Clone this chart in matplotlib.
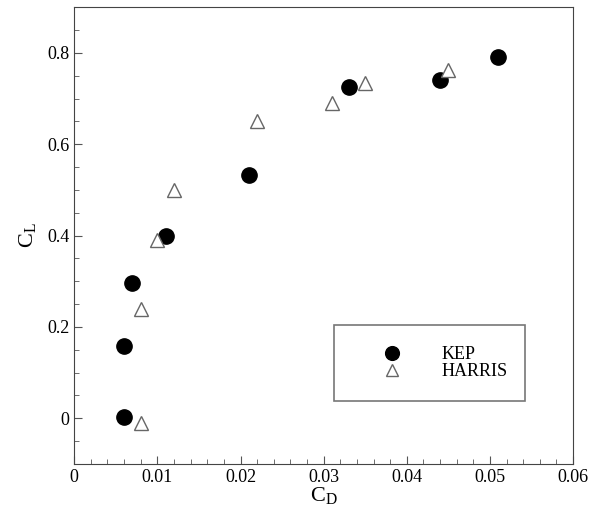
import matplotlib.pyplot as plt
from matplotlib.patches import Rectangle
from matplotlib.ticker import MultipleLocator

plt.rcParams['font.family'] = ['Liberation Serif', 'DejaVu Serif']

# KEP data
kep_cd = [0.006, 0.006, 0.007, 0.011, 0.021, 0.033, 0.044, 0.051]
kep_cl = [0.003, 0.157, 0.295, 0.400, 0.533, 0.726, 0.740, 0.790]

# HARRIS data
harris_cd = [0.008, 0.008, 0.010, 0.012, 0.022, 0.031, 0.035, 0.045]
harris_cl = [-0.010, 0.240, 0.390, 0.500, 0.650, 0.690, 0.733, 0.762]

xticks = [0, 0.01, 0.02, 0.03, 0.04, 0.05, 0.06]
xlabels = ['0', '0.01', '0.02', '0.03', '0.04', '0.05', '0.06']
yticks = [0, 0.2, 0.4, 0.6, 0.8]
ylabels = ['0', '0.2', '0.4', '0.6', '0.8']

fig = plt.figure(figsize=(5.89, 5.12), dpi=100)
ax = fig.add_axes([0.126, 0.094, 0.847, 0.892])

ax.plot(kep_cd, kep_cl, 'o', color='black', markersize=11, linestyle='none', label='KEP')
ax.plot(harris_cd, harris_cl, '^', markerfacecolor='white', markeredgecolor='#666666',
        markeredgewidth=1.0, markersize=10, linestyle='none', label='HARRIS')

ax.set_xlim(0, 0.06)
ax.set_ylim(-0.1, 0.9)
ax.set_xticks(xticks, xlabels)
ax.set_yticks(yticks, ylabels)
ax.xaxis.set_minor_locator(MultipleLocator(0.002))
ax.yaxis.set_minor_locator(MultipleLocator(0.05))
ax.tick_params(which='both', direction='in', top=False, right=False, labelsize=13, color='#555555')
ax.tick_params(which='major', length=6)
ax.tick_params(which='minor', length=3.5)
for s in ax.spines.values():
    s.set_color('#444444')

ax.set_xlabel('C$_\\mathregular{D}$', fontsize=16, labelpad=0)
ax.set_ylabel('C$_\\mathregular{L}$', fontsize=16, labelpad=6)

ax.add_patch(Rectangle((0.521, 0.138), 0.383, 0.166, transform=ax.transAxes,
                       fill=False, edgecolor='#777777', linewidth=1.2))
ax.legend(loc='center', bbox_to_anchor=(0.74, 0.221), frameon=False, fontsize=13,
          handletextpad=2.0, labelspacing=0.0, handlelength=1.5, markerscale=0.9)

fig.savefig('out.png', dpi=100)
